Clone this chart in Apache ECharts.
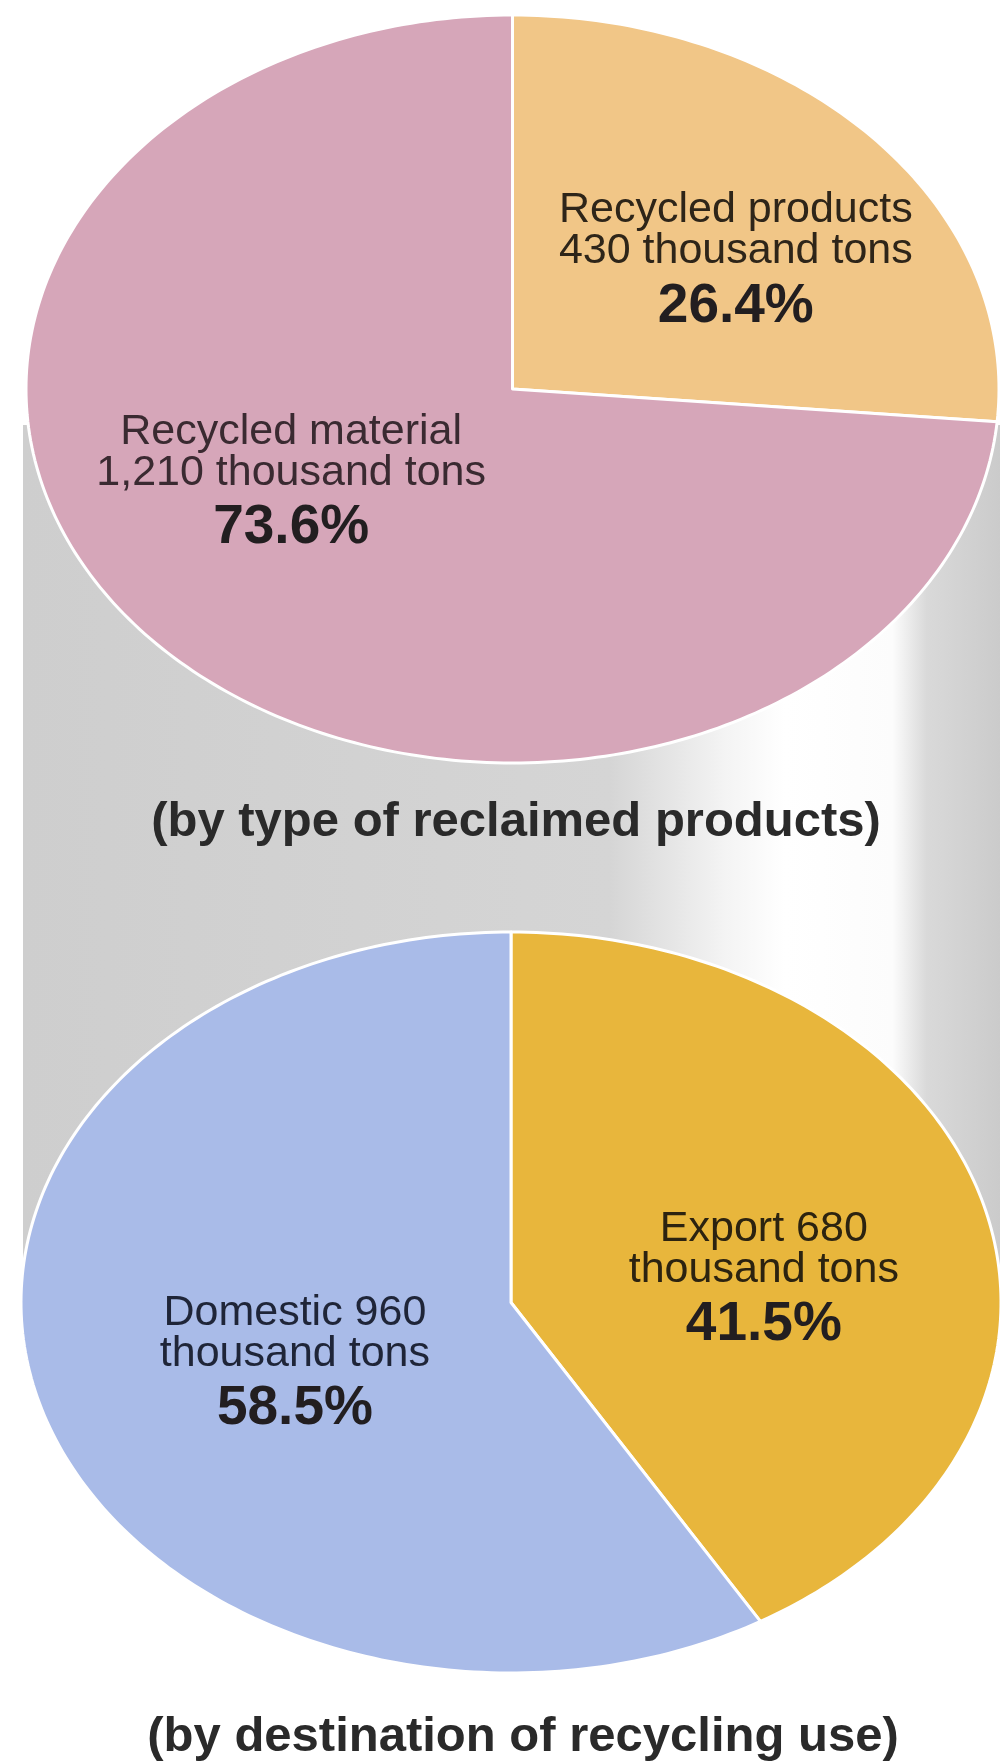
<!DOCTYPE html>
<html>
<head>
<meta charset="utf-8">
<title>Reclaimed products</title>
<script src="https://cdn.jsdelivr.net/npm/echarts@6/dist/echarts.min.js"></script>
<style>
  html, body { margin: 0; padding: 0; background: #ffffff; }
  #chart { width: 1006px; height: 1764px; }
</style>
</head>
<body>
<div id="chart"></div>
<script>
// Reclaimed output in thousand tons, with each part's share (%) of the total
const typeNames = ['Recycled products', 'Recycled material'];
const typeTons = [430, 1210];
const typeShares = [26.4, 73.6];

const destNames = ['Export', 'Domestic'];
const destTons = [680, 960];
const destShares = [41.5, 58.5];

const typeTitle = '(by type of reclaimed products)';
const destTitle = '(by destination of recycling use)';

const fmt = n => n.toLocaleString('en-US');

// Turn shares into [start, end] spans (percent of a full turn, clockwise from 12 o'clock)
function spans(shares) {
  let acc = 0;
  return shares.map(s => { const a = acc; acc += s; return [a, acc]; });
}

const SANS = '"Liberation Sans", Arial, Helvetica, sans-serif';

// Each pie lives in its own grid; both axes run -1..1 so the unit circle
// fills the grid box and comes out as an ellipse on screen.
const pies = [
  {
    box: { left: 26, top: 15, width: 973, height: 748 },
    colors: ['#f1c687', '#d6a6b9'],
    ink: ['#2e2519', '#3a2a31'],
    names: typeNames,
    tons: typeTons,
    shares: typeShares,
    lines: (name, t) => [name, fmt(t) + ' thousand tons'],
    anchors: [[0.459, 0.368], [-0.455, -0.225]]
  },
  {
    box: { left: 21, top: 932, width: 980, height: 741 },
    colors: ['#e8b63c', '#a9bbe8'],
    ink: ['#2c2310', '#1f2538'],
    names: destNames,
    tons: destTons,
    shares: destShares,
    lines: (name, t) => [name + ' ' + fmt(t), 'thousand tons'],
    anchors: [[0.516, 0.088], [-0.441, -0.139]]
  }
];

function sliceRenderer(pie) {
  return function (params, api) {
    const i = params.dataIndex;
    const start = api.value(0) / 100;
    const end = api.value(1) / 100;
    const pts = [api.coord([0, 0])];
    const steps = Math.max(12, Math.ceil((end - start) * 360));
    for (let k = 0; k <= steps; k++) {
      const a = 2 * Math.PI * (start + (end - start) * k / steps);
      pts.push(api.coord([Math.sin(a), Math.cos(a)]));
    }
    const at = api.coord(pie.anchors[i]);
    const txt = pie.lines(pie.names[i], pie.tons[i]);
    const regular = {
      fontFamily: SANS, fontSize: 43, fontWeight: 'normal',
      fill: pie.ink[i], align: 'center', verticalAlign: 'middle'
    };
    return {
      type: 'group',
      children: [
        {
          type: 'polygon',
          shape: { points: pts },
          style: { fill: pie.colors[i], stroke: '#ffffff', lineWidth: 3, lineJoin: 'round' }
        },
        { type: 'text', z2: 10, style: Object.assign({}, regular, { text: txt[0], x: at[0], y: at[1] - 41 }) },
        { type: 'text', z2: 10, style: Object.assign({}, regular, { text: txt[1], x: at[0], y: at[1] }) },
        {
          type: 'text', z2: 10,
          style: Object.assign({}, regular, {
            text: pie.shares[i].toFixed(1) + '%', x: at[0], y: at[1] + 55,
            fontSize: 55, fontWeight: 'bold', fill: '#221e20'
          })
        }
      ]
    };
  };
}

const chart = echarts.init(document.getElementById('chart'), null, { renderer: 'canvas' });

const option = {
  backgroundColor: '#ffffff',
  animation: false,
  grid: pies.map(p => Object.assign({ containLabel: false }, p.box)),
  xAxis: pies.map((p, k) => ({ type: 'value', gridIndex: k, min: -1, max: 1, show: false })),
  yAxis: pies.map((p, k) => ({ type: 'value', gridIndex: k, min: -1, max: 1, show: false })),
  graphic: [
    {
      // grey column joining the two pies, lit from the right
      type: 'rect',
      z: 0,
      silent: true,
      shape: { x: 23, y: 425, width: 977, height: 867 },
      style: {
        fill: {
          type: 'linear', x: 0, y: 0, x2: 1, y2: 0,
          colorStops: [
            { offset: 0, color: '#cecece' },
            { offset: 0.6, color: '#d5d5d5' },
            { offset: 0.72, color: '#f4f4f4' },
            { offset: 0.78, color: '#ffffff' },
            { offset: 0.89, color: '#fcfcfc' },
            { offset: 0.925, color: '#d9d9d9' },
            { offset: 1, color: '#cbcbcb' }
          ]
        }
      }
    },
    {
      type: 'text', z: 10, silent: true, x: 516, y: 822,
      style: {
        text: typeTitle, fontFamily: SANS, fontSize: 49, fontWeight: 'bold',
        fill: '#2a2a2a', align: 'center', verticalAlign: 'middle'
      }
    },
    {
      type: 'text', z: 10, silent: true, x: 523, y: 1737,
      style: {
        text: destTitle, fontFamily: SANS, fontSize: 49, fontWeight: 'bold',
        fill: '#2a2a2a', align: 'center', verticalAlign: 'middle'
      }
    }
  ],
  series: pies.map((p, k) => ({
    type: 'custom',
    name: k === 0 ? 'by type' : 'by destination',
    coordinateSystem: 'cartesian2d',
    xAxisIndex: k,
    yAxisIndex: k,
    clip: false,
    silent: true,
    z: 2,
    renderItem: sliceRenderer(p),
    data: spans(p.shares)
  }))
};

chart.setOption(option);
</script>
</body>
</html>
